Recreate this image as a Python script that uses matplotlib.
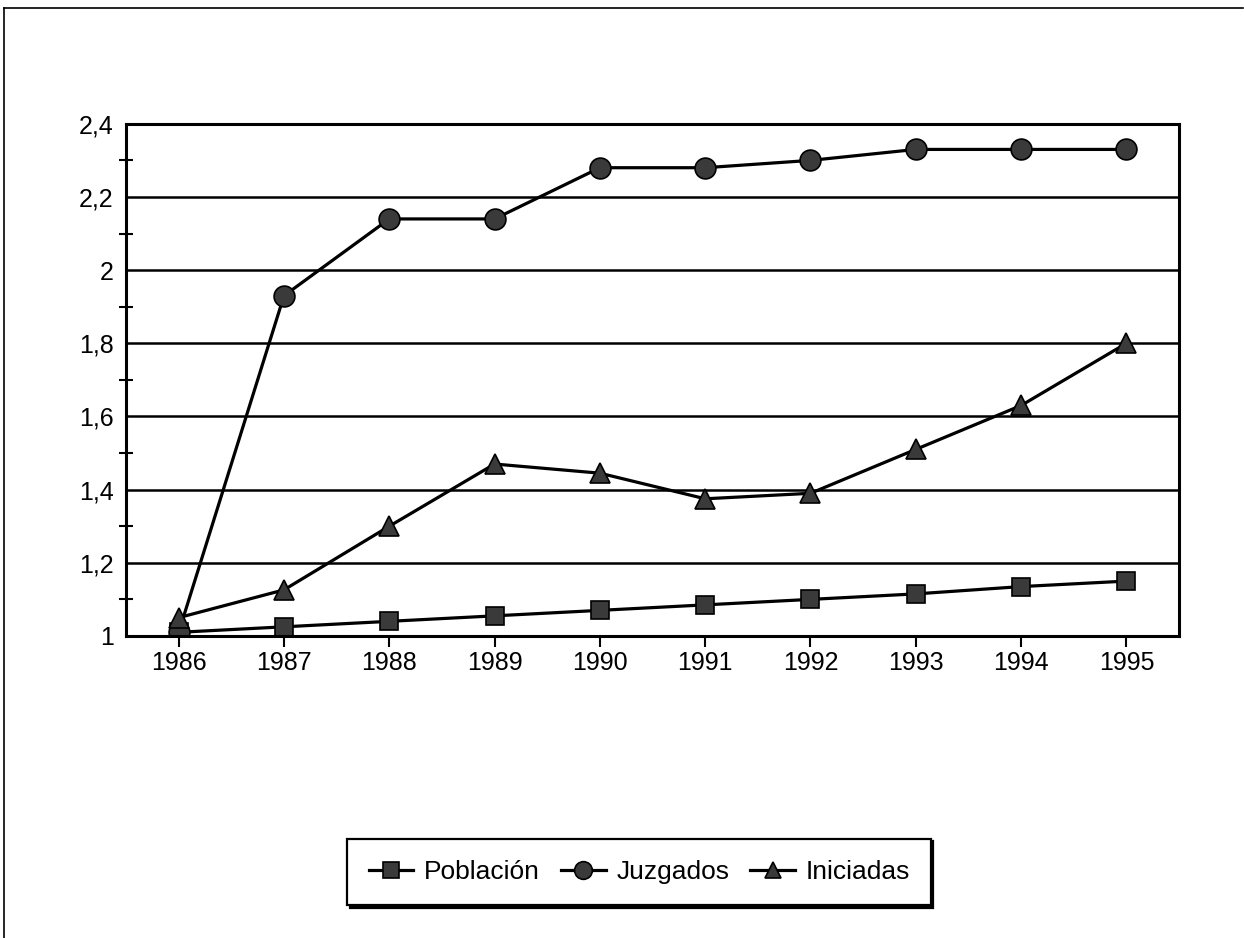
import numpy as np
import matplotlib
matplotlib.use('Agg')
import matplotlib.pyplot as plt
from matplotlib.lines import Line2D
from matplotlib.ticker import MultipleLocator, FuncFormatter

plt.rcParams['font.family'] = ['Liberation Sans', 'DejaVu Sans']

years = ['1986', '1987', '1988', '1989', '1990', '1991', '1992', '1993', '1994', '1995']
poblacion = [1.01, 1.025, 1.04, 1.055, 1.07, 1.085, 1.10, 1.115, 1.135, 1.15]
juzgados = [1.01, 1.93, 2.14, 2.14, 2.28, 2.28, 2.30, 2.33, 2.33, 2.33]
iniciadas = [1.05, 1.126, 1.30, 1.47, 1.445, 1.375, 1.39, 1.51, 1.63, 1.80]

fig = plt.figure(figsize=(12.44, 9.38), dpi=100)
ax = fig.add_axes([0.1013, 0.322, 0.8465, 0.546])

x = np.arange(len(years))
mk = dict(color='black', lw=2.3, markeredgecolor='black', markerfacecolor='#3a3a3a', markeredgewidth=1.2)
ax.plot(x, poblacion, marker='s', markersize=13, label='Población', **mk)
ax.plot(x, juzgados, marker='o', markersize=15, label='Juzgados', **mk)
ax.plot(x, iniciadas, marker='^', markersize=14, label='Iniciadas', **mk)

ax.set_xlim(-0.5, len(years) - 0.5)
ax.set_ylim(1, 2.4)
ax.set_xticks(x)
ax.set_xticklabels(years)
ax.yaxis.set_major_locator(MultipleLocator(0.2))
ax.yaxis.set_minor_locator(MultipleLocator(0.1))
ax.yaxis.set_major_formatter(FuncFormatter(lambda v, p: ('%g' % round(v, 1)).replace('.', ',')))
ax.grid(axis='y', which='major', color='black', lw=1.8)
ax.set_axisbelow(True)
for s in ax.spines.values():
    s.set_linewidth(2.2)
ax.tick_params(axis='x', direction='out', length=8, width=1.5, labelsize=18, pad=3)
ax.tick_params(axis='y', which='major', direction='out', length=0, labelsize=18, pad=9)
ax.tick_params(axis='y', which='minor', direction='inout', length=10, width=1.5)

leg = ax.legend(loc='center', bbox_to_anchor=(0.514, 0.070), bbox_transform=fig.transFigure,
                ncol=3, frameon=True, fontsize=19, handlelength=1.7, handletextpad=0.4,
                columnspacing=0.8, borderpad=0.8, fancybox=False,
                shadow={'color': 'black', 'alpha': 1, 'ox': 1.5, 'oy': -1.5}, markerscale=0.85)
leg.get_frame().set_edgecolor('black')
leg.get_frame().set_linewidth(1.6)

# outer frame from scan
fig.add_artist(Line2D([0.003, 0.999], [0.991, 0.991], color='black', lw=1.2))
fig.add_artist(Line2D([0.003, 0.003], [0.0, 0.991], color='black', lw=1.2))

fig.savefig('out.png', dpi=100)
